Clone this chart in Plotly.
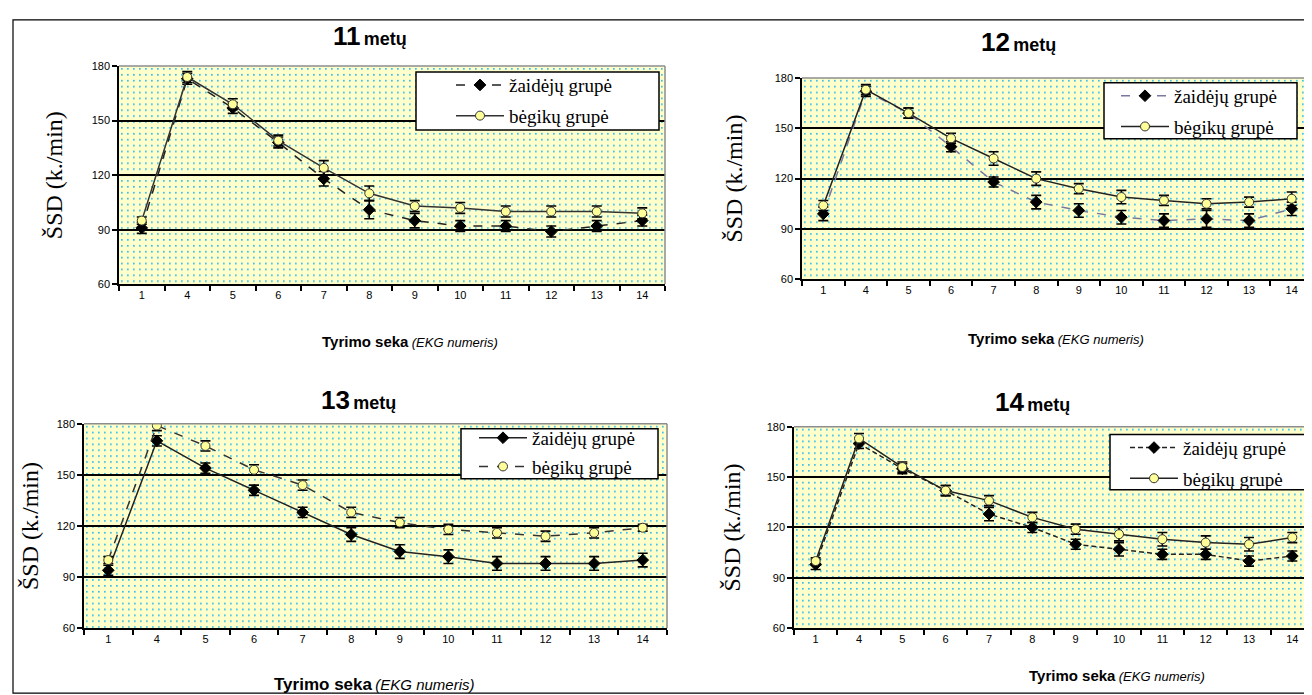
import base64
import plotly.graph_objects as go

W, H = 1312, 695

categories = ["1", "4", "5", "6", "7", "8", "9", "10", "11", "12", "13", "14"]

# 11 metų
zaid_11 = [91, 173, 157, 138, 118, 101, 95, 92, 92, 89, 92, 95]
zaid_11_err = [3, 3, 3, 3, 4, 5, 4, 3, 3, 3, 3, 3]
begik_11 = [95, 174, 159, 139, 124, 110, 103, 102, 100, 100, 100, 99]
begik_11_err = [2, 3, 3, 3, 4, 4, 3, 3, 3, 3, 3, 3]

# 12 metų
zaid_12 = [99, 172, 159, 139, 118, 106, 101, 97, 95, 96, 95, 102]
zaid_12_err = [4, 3, 3, 3, 3, 4, 4, 4, 4, 5, 4, 4]
begik_12 = [104, 173, 159, 144, 132, 120, 114, 109, 107, 105, 106, 108]
begik_12_err = [3, 3, 3, 3, 4, 4, 3, 4, 3, 3, 3, 4]

# 13 metų
zaid_13 = [94, 170, 154, 141, 128, 115, 105, 102, 98, 98, 98, 100]
zaid_13_err = [3, 3, 3, 3, 3, 4, 4, 4, 4, 4, 4, 4]
begik_13 = [100, 179, 167, 153, 144, 128, 122, 118, 116, 114, 116, 119]
begik_13_err = [2, 3, 3, 3, 3, 3, 3, 3, 3, 3, 3, 2]

# 14 metų
zaid_14 = [98, 170, 155, 142, 128, 120, 110, 107, 104, 104, 100, 103]
zaid_14_err = [3, 3, 3, 3, 4, 3, 3, 4, 3, 3, 3, 3]
begik_14 = [100, 173, 156, 142, 136, 126, 119, 116, 113, 111, 110, 114]
begik_14_err = [2, 3, 3, 3, 3, 3, 3, 4, 4, 4, 4, 3]

name_z = "žaidėjų grupė"
name_b = "bėgikų grupė"
year_titles = ["11", "12", "13", "14"]

# box = (left, top, right, bottom), sym = x where the legend line sample starts
panels = [
    dict(z=zaid_11, ze=zaid_11_err, b=begik_11, be=begik_11_err,
         px=(111, 657), py=(53, 275), title=(362, 22), xt=(402, 333), xts=15, yt=46,
         box=(408, 59, 651, 118), sym=448, lgoff=-6, lggap=3,
         zline=dict(color="#222222", dash="dash", width=1.5),
         bline=dict(color="#333333", dash="solid", width=1.5)),
    dict(z=zaid_12, ze=zaid_12_err, b=begik_12, be=begik_12_err,
         px=(794, 1305), py=(65, 270), title=(1010, 29), xt=(1048, 330), xts=15, yt=726,
         box=(1096, 70, 1289, 127), sym=1113, lgoff=-6, lggap=3,
         zline=dict(color="#7878A0", dash="dash", width=1.5),
         bline=dict(color="#222222", dash="solid", width=1.5)),
    dict(z=zaid_13, ze=zaid_13_err, b=begik_13, be=begik_13_err,
         px=(76, 659), py=(417, 625), title=(350, 393), xt=(366, 682), xts=17, yt=22,
         box=(453, 422, 650, 473), sym=471, lgoff=-10, lggap=1,
         zline=dict(color="#222222", dash="solid", width=1.5),
         bline=dict(color="#333333", dash="dash", width=1.5)),
    dict(z=zaid_14, ze=zaid_14_err, b=begik_14, be=begik_14_err,
         px=(786, 1306), py=(420, 625), title=(1024, 395), xt=(1109, 673), xts=15, yt=724,
         box=(1102, 428, 1303, 484), sym=1122, lgoff=-6, lggap=3,
         zline=dict(color="#222222", dash="5px,3px", width=1.5),
         bline=dict(color="#222222", dash="solid", width=1.5)),
]


def dots_svg(w, h):
    svg = (
        f'<svg xmlns="http://www.w3.org/2000/svg" width="{w}" height="{h}" '
        f'viewBox="0 0 {w} {h}">'
        '<defs><pattern id="p" width="6" height="6" patternUnits="userSpaceOnUse">'
        '<rect x="0" y="0" width="6" height="6" fill="#FFFFCC"/>'
        '<rect x="2" y="2" width="1.7" height="1.7" fill="#35BFEA"/>'
        '</pattern></defs>'
        f'<rect x="0" y="0" width="{w}" height="{h}" fill="url(#p)"/></svg>'
    )
    return "data:image/svg+xml;base64," + base64.b64encode(svg.encode()).decode()


fig = go.Figure()
layout = dict(
    width=W, height=H, margin=dict(l=0, r=0, t=0, b=0),
    paper_bgcolor="white", plot_bgcolor="rgba(0,0,0,0)",
    showlegend=True, images=[], shapes=[], annotations=[],
)

tick_font = dict(family="Liberation Sans, Arial", size=11, color="black")

for i, p in enumerate(panels):
    n = i + 1
    xa = "x" if n == 1 else f"x{n}"
    ya = "y" if n == 1 else f"y{n}"
    lg = "legend" if n == 1 else f"legend{n}"
    x0, x1 = p["px"]
    y0, y1 = p["py"]

    fig.add_trace(go.Scatter(
        x=categories, y=p["z"], name=name_z, xaxis=xa, yaxis=ya, legend=lg,
        legendgroup=f"z{n}",
        mode="lines+markers", line=p["zline"],
        marker=dict(symbol="diamond", size=9, color="black", line=dict(color="black", width=1)),
        error_y=dict(type="data", array=p["ze"], color="black", thickness=1.6, width=5),
    ))
    fig.add_trace(go.Scatter(
        x=categories, y=p["b"], name=name_b, xaxis=xa, yaxis=ya, legend=lg,
        legendgroup=f"b{n}",
        mode="lines+markers", line=p["bline"],
        marker=dict(symbol="circle", size=9, color="#FFFF99", line=dict(color="#333333", width=1)),
        error_y=dict(type="data", array=p["be"], color="black", thickness=1.6, width=5),
    ))

    xkey = "xaxis" if n == 1 else f"xaxis{n}"
    ykey = "yaxis" if n == 1 else f"yaxis{n}"
    layout[xkey] = dict(
        domain=[x0 / W, x1 / W], anchor=ya, type="category",
        categoryorder="array", categoryarray=categories,
        showline=True, linecolor="black", linewidth=1.5,
        ticks="outside", tickson="boundaries", ticklen=5, tickcolor="black", tickwidth=1.5,
        showgrid=False, tickfont=tick_font, range=[-0.5, len(categories) - 0.5],
        fixedrange=True,
    )
    layout[ykey] = dict(
        domain=[1 - y1 / H, 1 - y0 / H], anchor=xa,
        range=[60, 180], tickvals=[60, 90, 120, 150, 180],
        showline=True, linecolor="black", linewidth=1.5,
        ticks="outside", ticklen=5, tickcolor="black", tickwidth=1.5,
        showgrid=True, gridcolor="black", gridwidth=1.5,
        zeroline=False, tickfont=tick_font, fixedrange=True,
    )

    layout["images"].append(dict(
        source=dots_svg(x1 - x0, y1 - y0), xref=f"{xa} domain", yref=f"{ya} domain",
        x=0, y=1, sizex=1, sizey=1, xanchor="left", yanchor="top",
        sizing="stretch", layer="below",
    ))
    # grey top/right plot border
    layout["shapes"].append(dict(type="line", xref=f"{xa} domain", yref=f"{ya} domain",
                                 x0=0, x1=1, y0=1, y1=1, line=dict(color="#8C8C8C", width=1.5)))
    layout["shapes"].append(dict(type="line", xref=f"{xa} domain", yref=f"{ya} domain",
                                 x0=1, x1=1, y0=0, y1=1, line=dict(color="#8C8C8C", width=1.5)))

    # legend frame (white box) + borderless legend inside it
    bl, bt, br, bb = p["box"]
    layout["shapes"].append(dict(type="rect", xref="paper", yref="paper",
                                 x0=bl / W, x1=br / W, y0=1 - bb / H, y1=1 - bt / H,
                                 fillcolor="white", line=dict(color="black", width=1.5),
                                 layer="above"))
    layout[lg] = dict(
        x=(p["sym"] - 5) / W, y=1 - (bt + p["lgoff"]) / H, xanchor="left", yanchor="top",
        bgcolor="rgba(0,0,0,0)", borderwidth=0,
        font=dict(family="Liberation Serif, Times New Roman", size=19, color="black"),
        itemwidth=48, tracegroupgap=p["lggap"], traceorder="grouped",
    )

    tx, ty = p["title"]
    layout["annotations"].append(dict(
        xref="paper", yref="paper", x=tx / W, y=1 - ty / H, xanchor="center", yanchor="middle",
        showarrow=False,
        text=f"<b><span style='font-size:26px'>{year_titles[i]}</span> "
             f"<span style='font-size:18px'>metų</span></b>",
        font=dict(family="Liberation Sans, Arial", color="black"),
    ))
    xtx, xty = p["xt"]
    layout["annotations"].append(dict(
        xref="paper", yref="paper", x=xtx / W, y=1 - xty / H, xanchor="center", yanchor="middle",
        showarrow=False,
        text=f"<b><span style='font-size:{p['xts']}px'>Tyrimo seka</span></b> "
             f"<i><span style='font-size:{p['xts'] - 2}px'>(EKG numeris)</span></i>",
        font=dict(family="Liberation Sans, Arial", color="black"),
    ))
    layout["annotations"].append(dict(
        xref="paper", yref="paper", x=p["yt"] / W, y=1 - ((y0 + y1) / 2) / H,
        xanchor="center", yanchor="middle", textangle=-90, showarrow=False,
        text="ŠSD (k./min)",
        font=dict(family="Liberation Serif, Times New Roman", size=24, color="black"),
    ))

# outer frame
layout["shapes"].append(dict(type="rect", xref="paper", yref="paper",
                             x0=5 / W, x1=1310 / W, y0=1 - 691 / H, y1=1 - 6 / H,
                             line=dict(color="black", width=1.2), layer="above"))

fig.update_layout(**layout)
fig.write_html("out.html")
